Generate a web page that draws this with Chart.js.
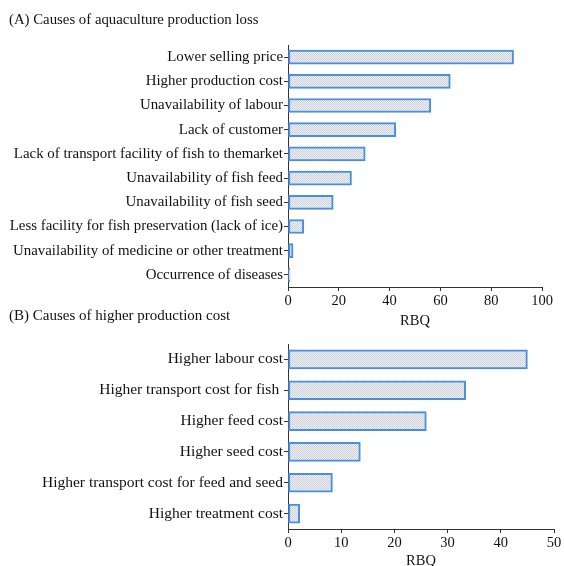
<!DOCTYPE html>
<html>
<head>
<meta charset="utf-8">
<script src="https://cdn.jsdelivr.net/npm/chart.js@4/dist/chart.umd.min.js"></script>
<style>
  body { margin: 0; background: #fff; width: 564px; height: 566px; overflow: hidden; position: relative; }
  .ttl { position: absolute; left: 9px; font-family: "Liberation Serif", serif; color: #111; }
  .wrap { position: absolute; left: 0; width: 564px; }
</style>
</head>
<body>
<div class="wrap" style="top:0;height:330px"><canvas id="chartA"></canvas></div>
<div class="wrap" style="top:330px;height:240px"><canvas id="chartB"></canvas></div>
<div class="ttl" style="top:11px;font-size:14.8px">(A) Causes of aquaculture production loss</div>
<div class="ttl" style="top:307px;font-size:15px">(B) Causes of higher production cost</div>
<script>
// --- Dados (A): causas da perda de produção ---
const lossLabels = [
  'Lower selling price',
  'Higher production cost',
  'Unavailability of labour',
  'Lack of customer',
  'Lack of transport facility of fish to themarket',
  'Unavailability of fish feed',
  'Unavailability of fish seed',
  'Less facility for fish preservation (lack of ice)',
  'Unavailability of medicine or other treatment',
  'Occurrence of diseases'
];
const lossValues = [88.8, 63.9, 56.2, 42.4, 30.4, 25.0, 17.8, 6.2, 2.0, 0.8];
const lossTicks = [0, 20, 40, 60, 80, 100];

// --- Dados (B): causas do custo de produção mais alto ---
const costLabels = [
  'Higher labour cost',
  'Higher transport cost for fish ',
  'Higher feed cost',
  'Higher seed cost',
  'Higher transport cost for feed and seed',
  'Higher treatment cost'
];
const costValues = [45.0, 33.4, 26.0, 13.6, 8.35, 2.2];
const costTicks = [0, 10, 20, 30, 40, 50];

const FONT = 'Liberation Serif';
const AXIS = '#333';

// Padrão pontilhado usado no preenchimento das barras.
function makePattern() {
  const c = document.createElement('canvas');
  c.width = 2; c.height = 2;
  const g = c.getContext('2d');
  g.fillStyle = '#eef0f4';
  g.fillRect(0, 0, 2, 2);
  g.fillStyle = '#cdd2da';
  g.fillRect(0, 0, 1, 1);
  g.fillRect(1, 1, 1, 1);
  return g.createPattern(c, 'repeat');
}
const fillPattern = makePattern();

function buildChart(id, labels, values, ticks, opts) {
  new Chart(document.getElementById(id), {
    type: 'bar',
    data: {
      labels: labels,
      datasets: [{
        data: values,
        backgroundColor: fillPattern,
        borderColor: '#4a8ee0',
        borderWidth: 2,
        borderSkipped: false,
        barThickness: opts.barThickness
      }]
    },
    options: {
      indexAxis: 'y',
      responsive: true,
      maintainAspectRatio: false,
      animation: false,
      layout: { padding: { top: opts.top, right: opts.right, left: 0, bottom: 0 } },
      plugins: { legend: { display: false }, tooltip: { enabled: false } },
      scales: {
        x: {
          min: 0,
          max: ticks[ticks.length - 1],
          afterBuildTicks: (s) => { s.ticks = ticks.map(v => ({ value: v })); },
          afterFit: (s) => { s.height = opts.xHeight; },
          grid: { drawOnChartArea: false, drawTicks: true, tickLength: 4, color: AXIS },
          border: { display: true, color: AXIS, width: 1 },
          ticks: { color: '#111', font: { family: FONT, size: 14.5 }, padding: 1, maxRotation: 0 },
          title: { display: true, text: 'RBQ', color: '#111', font: { family: FONT, size: 14.5 }, padding: { top: opts.titlePad, bottom: 0 } }
        },
        y: {
          afterFit: (s) => { s.width = 288; },
          grid: { drawOnChartArea: false, drawTicks: true, tickLength: 4, color: AXIS, offset: false },
          border: { display: true, color: AXIS, width: 1 },
          ticks: { color: '#111', font: { family: FONT, size: opts.labelSize }, padding: 1, autoSkip: false }
        }
      }
    }
  });
}

buildChart('chartA', lossLabels, lossValues, lossTicks,
  { top: 45, right: 22, xHeight: 43, barThickness: 14, titlePad: 3, labelSize: 14.9 });
buildChart('chartB', costLabels, costValues, costTicks,
  { top: 14, right: 10, xHeight: 41, barThickness: 19, titlePad: 4, labelSize: 15.5 });
</script>
</body>
</html>
